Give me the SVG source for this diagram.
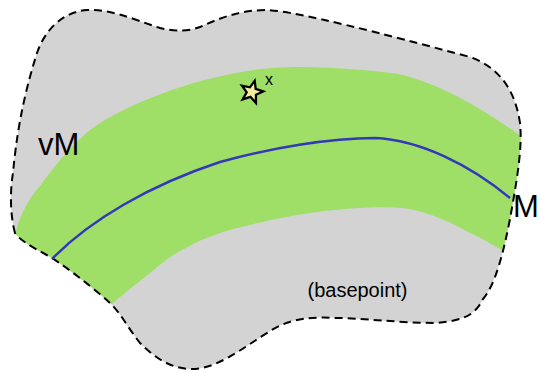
<svg xmlns="http://www.w3.org/2000/svg" width="540" height="372" viewBox="0 0 540 372">
<style>
.lbl{font-family:"Liberation Sans",Arial,sans-serif;fill:#000}
</style>
<defs>
<path id="blobPath" d="M 15,233 C 10,215 10,190 13,173 C 16,140 22,100 37,53 C 45,30 62,12 87,10 C 110,9 130,18 160,28 C 175,32 190,31 200,27 C 220,18 240,10 267,10 C 300,12 380,33 470,57 C 500,68 515,90 520,123 C 523,150 515,190 510,219 C 503,255 495,285 483,299 C 475,315 465,320 437,323 C 400,323 360,318 337,318 C 300,316 285,322 270,331 C 240,350 215,370 190,369 C 170,368 155,358 140,343 C 128,328 120,312 110,303 C 90,285 60,262 45,254 C 30,246 20,240 15,233 Z"/>
<clipPath id="blobClip"><use href="#blobPath"/></clipPath>
</defs>
<g id="vM-region">
<use href="#blobPath" fill="#d3d3d3"/>
<path clip-path="url(#blobClip)" fill="#9fdf68" d="M 14,240 C 18,218 28,199 40,186 C 55,165 80,135 100,123 C 130,104 180,85 217,77 C 240,72 260,67 303,67 C 350,68 390,72 403,75 C 440,85 480,105 540,150 L 540,260 C 525,255 510,250 500,249 C 490,243 475,235 470,233 C 450,222 430,212 403,208 C 380,206 340,208 303,214 C 290,216 260,222 233,229 C 210,236 195,242 190,246 C 170,255 160,265 150,273 C 135,285 120,296 100,315 L 0,300 Z"/>
<use href="#blobPath" fill="none" stroke="#000" stroke-width="2" stroke-dasharray="8,5"/>
</g>
<g id="connectors">
<path id="M-curve" d="M 52,259 C 90,220 150,185 220,162 C 270,148 330,138 375,138 C 420,140 470,165 510,198" fill="none" stroke="#3338b8" stroke-width="2.5"/>
</g>
<g id="x-point">
<polygon points="252,80.5 255,88 263,88.5 256.8,93.6 258.9,101.5 252,97 245.1,101.5 247.2,93.6 241,88.5 249,88" fill="#f4ed9e" stroke="#000" stroke-width="2.3" stroke-linejoin="miter" transform="rotate(15 252 91)"/>
<text class="lbl" x="265" y="85" font-size="16">x</text>
</g>
<text class="lbl" x="38" y="155" font-size="31">vM</text>
<text class="lbl" x="513" y="217" font-size="31">M</text>
<text class="lbl" x="357.5" y="297" font-size="20" text-anchor="middle">(basepoint)</text>
</svg>
